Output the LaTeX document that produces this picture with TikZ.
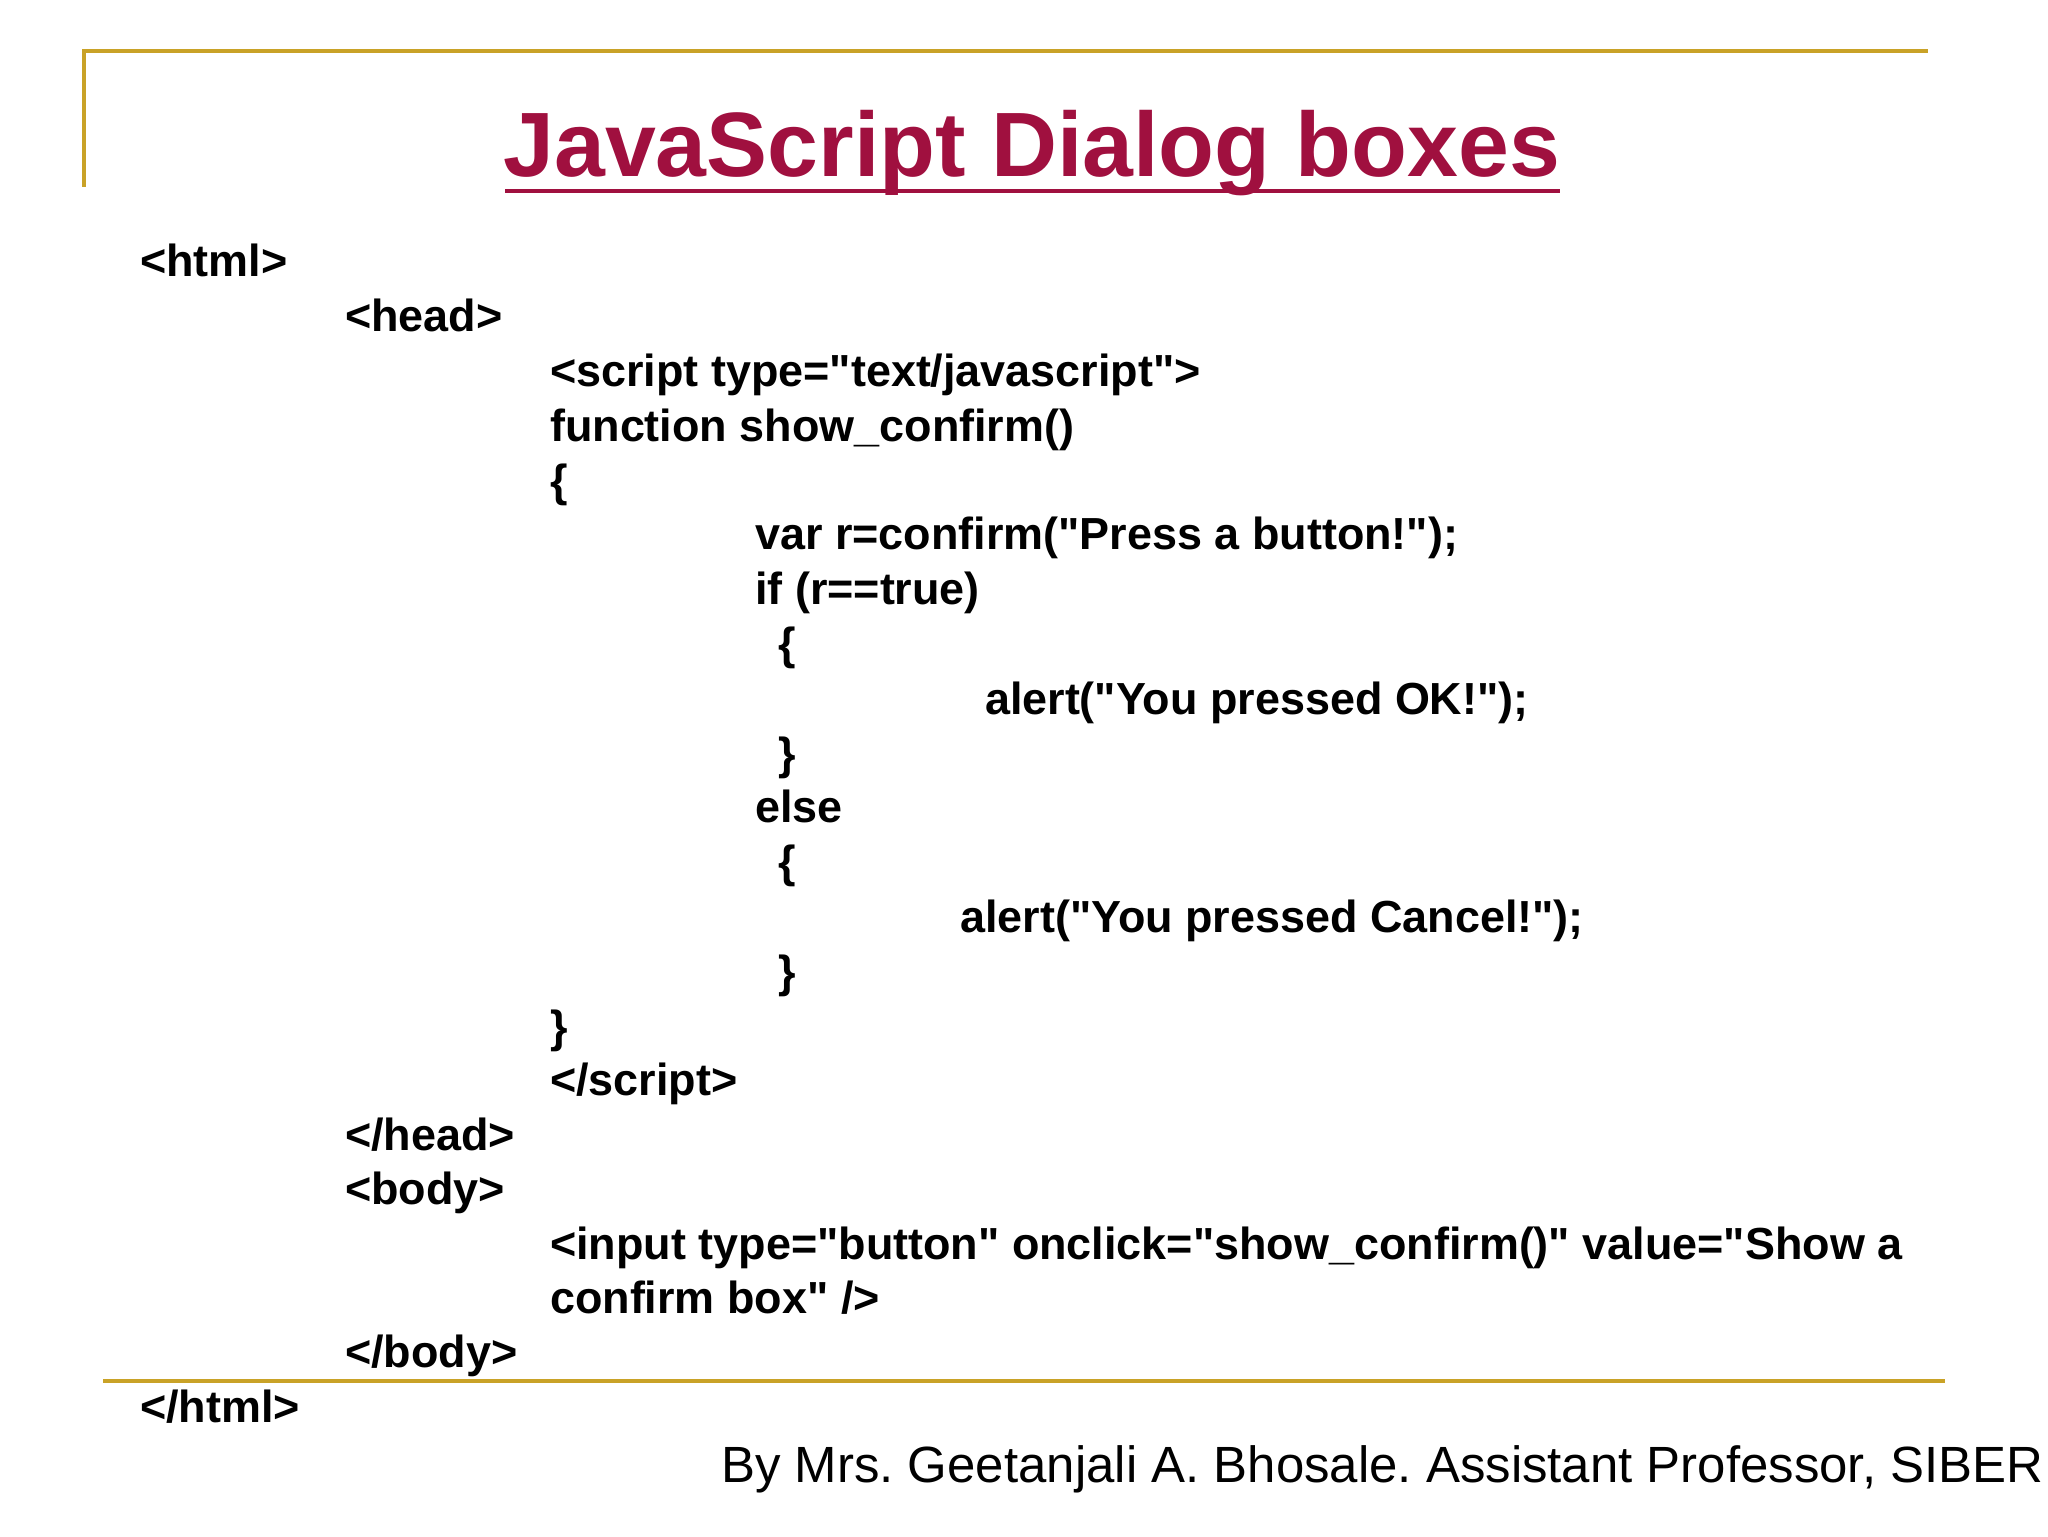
\documentclass[tikz,border=0pt]{standalone}
\usepackage{fontspec}
\setmainfont[Ligatures=NoCommon,Mapping=]{Liberation Sans}
\definecolor{gold}{HTML}{C9A227}
\definecolor{ttl}{HTML}{A0103F}
\newcommand{\q}{\char34\relax}
\begin{document}
\frenchspacing
\begin{tikzpicture}[x=1pt,y=-1pt,
  code/.style={anchor=base west,inner sep=0,font=\fontsize{34.4}{34.4}\selectfont\bfseries}]
\useasboundingbox (0,0) rectangle (1568,1176);
\draw[gold,line width=3] (64,143) -- (64,39) -- (1476,39);
\draw[gold,line width=3] (79,1057) -- (1489,1057);
\node[anchor=base,inner sep=0,text=ttl,font=\fontsize{70}{70}\selectfont\bfseries] (title) at (790,135) {JavaScript Dialog boxes};
\draw[ttl,line width=3] (387,146) -- (1194,146);
\node[code] (l1) at (107,212) {<html>};
\node[code] (l2) at (264,254) {<head>};
\node[code] (l3) at (421,296) {<script type=\q text/javascript\q>};
\node[code] (l4) at (421,338) {function show\_confirm()};
\node[code] (l5) at (421,380) {\{};
\node[code] (l6) at (578,421) {var r=confirm(\q Press a button!\q);};
\node[code] (l7) at (578,463) {if (r==true)};
\node[code] (l8) at (596,505) {\{};
\node[code] (l9) at (754,547) {alert(\q You pressed OK!\q);};
\node[code] (l10) at (596,589) {\}};
\node[code] (l11) at (578,630) {else};
\node[code] (l12) at (596,672) {\{};
\node[code] (l13) at (735,714) {alert(\q You pressed Cancel!\q);};
\node[code] (l14) at (596,756) {\}};
\node[code] (l15) at (421,798) {\}};
\node[code] (l16) at (421,839) {</script>};
\node[code] (l17) at (264,881) {</head>};
\node[code] (l18) at (264,922) {<body>};
\node[code] (l19) at (421,964) {<input type=\q button\q{} onclick=\q show\_confirm()\q{} value=\q Show a};
\node[code] (l20) at (421,1006) {confirm box\q{} />};
\node[code] (l21) at (264,1047) {</body>};
\node[code] (l22) at (107,1089) {</html>};
\node[anchor=base west,inner sep=0,font=\fontsize{39}{39}\selectfont] (foot) at (552,1135) {By Mrs. Geetanjali A. Bhosale. Assistant Professor, SIBER};
\end{tikzpicture}
\end{document}
